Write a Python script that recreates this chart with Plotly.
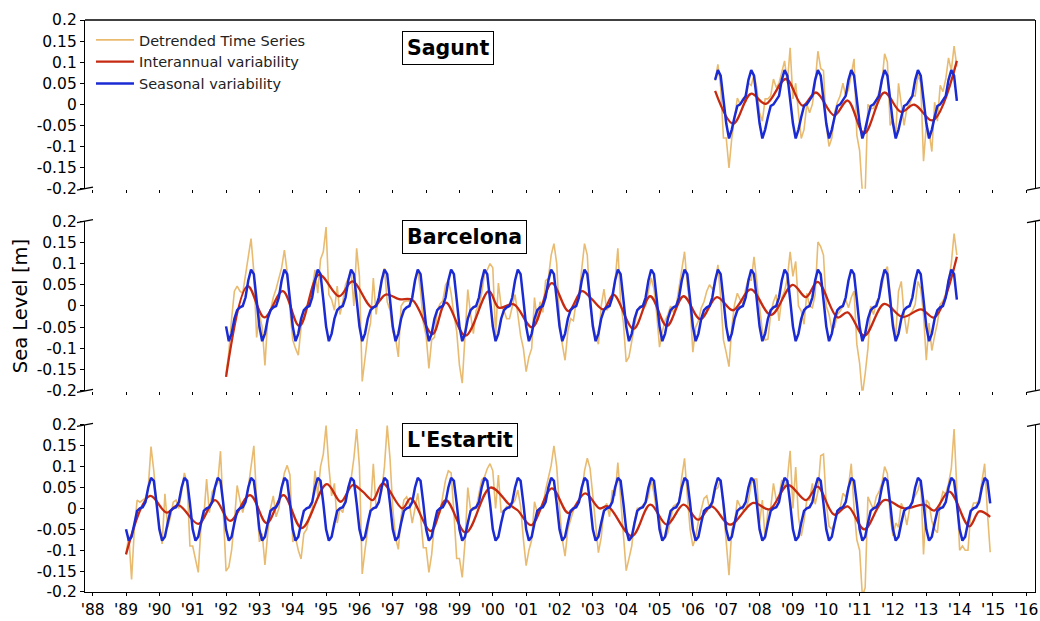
import plotly.graph_objects as go
from plotly.subplots import make_subplots

# ---------------- data ----------------
TICK_YEARS = list(range(1988, 2017))
TICK_LABELS = ["'" + str(y)[2:] for y in TICK_YEARS]
Y_TICKS = [0.2, 0.15, 0.1, 0.05, 0, -0.05, -0.1, -0.15, -0.2]
Y_TICK_LABELS = ["0.2", "0.15", "0.1", "0.05", "0", "-0.05", "-0.1", "-0.15", "-0.2"]

STATIONS = ["Sagunt", "Barcelona", "L'Estartit"]
SERIES_NAMES = ["Detrended Time Series", "Interannual variability", "Seasonal variability"]

# Sagunt: monthly, Sep 2006 - Dec 2013
sagunt_start = (2006, 9)
sagunt_detrended = [
    0.056, 0.095, 0.04, -0.08,
    -0.08, -0.151, -0.08, -0.03, 0.015, 0.0, 0.015, 0.005, 0.05, 0.045, 0.07, 0.04,
    -0.02, -0.04, 0.013, 0.013, 0.02, 0.06, 0.04, 0.05, 0.075, 0.103, 0.05, 0.134,
    0.013, 0.05, -0.02, -0.081, -0.06, 0.0, -0.02, 0.0, 0.05, 0.126, 0.085, 0.08,
    -0.05, -0.1, -0.08, -0.02, 0.005, 0.02, 0.05, 0.02, 0.035, 0.07, 0.108, -0.073,
    -0.11, -0.21, -0.21, 0.0, -0.01, -0.01, 0.013, 0.03, 0.05, 0.12, 0.1, -0.05,
    -0.035, -0.07, 0.05, -0.003, -0.05, -0.01, 0.0, 0.02, 0.02, 0.07, 0.05, -0.135,
    -0.05, -0.065, -0.112, 0.005, -0.04, 0.045, 0.03, 0.06, 0.11, 0.08, 0.138, 0.09,
]
sagunt_seasonal_cycle = [-0.045, -0.081, -0.06, -0.03, -0.004, 0.0, 0.01, 0.02, 0.058, 0.081, 0.068, 0.008]
sagunt_inter_t = [2006.667, 2007.21, 2007.74, 2008.19, 2008.79, 2009.29, 2009.69, 2010.24,
                  2010.64, 2011.14, 2011.74, 2012.24, 2012.64, 2013.19, 2013.917]
sagunt_inter_v = [0.032, -0.046, 0.025, 0.001, 0.06, -0.003, 0.028, -0.026,
                  0.009, -0.069, 0.028, -0.018, -0.001, -0.038, 0.103]

# Barcelona: monthly, Jan 1992 - Dec 2013
barcelona_start = (1992, 1)
barcelona_detrended = [
    -0.16, -0.11, -0.03, 0.035, 0.047, 0.035, 0.03, 0.07, 0.11, 0.159, 0.08, -0.074,
    -0.02, -0.05, -0.14, -0.03, -0.01, 0.02, 0.04, 0.065, 0.09, 0.132, 0.08, -0.01,
    -0.08, -0.1, -0.116, -0.05, -0.01, 0.0, 0.005, 0.04, 0.085, 0.03, 0.11, 0.128,
    0.186, 0.027, 0.015, -0.01, 0.047, -0.02, 0.01, 0.05, 0.065, 0.085, 0.0, 0.136,
    0.07, -0.178, -0.13, -0.07, -0.04, 0.066, -0.02, 0.027, 0.06, 0.089, 0.01, -0.01,
    -0.06, -0.075, -0.12, 0.0, 0.01, 0.012, 0.012, 0.012, 0.06, 0.085, 0.035, -0.04,
    -0.07, -0.147, -0.08, -0.074, -0.01, 0.005, 0.012, 0.05, 0.06, 0.03, -0.02, -0.06,
    -0.14, -0.182, -0.07, 0.039, -0.02, -0.065, -0.01, 0.0, 0.03, 0.075, 0.085, 0.1,
    0.09, -0.07, 0.054, 0.0, -0.01, -0.03, -0.03, 0.0, 0.027, -0.02, -0.07, -0.1,
    -0.155, -0.12, -0.1, 0.02, -0.035, 0.01, -0.015, 0.06, 0.065, 0.12, 0.147, 0.1,
    -0.03, -0.09, -0.128, -0.06, -0.03, -0.035, 0.01, 0.027, 0.08, 0.147, 0.12, 0.0,
    -0.04, -0.07, -0.09, 0.0, 0.04, -0.01, 0.0, 0.03, 0.058, 0.136, 0.01, -0.04,
    -0.132, -0.12, -0.08, -0.04, -0.01, 0.0, 0.0, 0.0, 0.035, 0.066, 0.04, -0.02,
    -0.097, -0.06, -0.035, -0.02, 0.0, -0.015, 0.0, 0.04, 0.08, 0.128, 0.05, 0.0,
    -0.109, -0.05, -0.035, -0.005, 0.01, 0.035, 0.05, 0.04, 0.05, 0.097, 0.02, -0.08,
    -0.11, -0.143, -0.05, 0.004, 0.03, 0.015, 0.005, 0.04, 0.065, 0.06, 0.116, 0.06,
    -0.01, -0.06, -0.08, -0.078, -0.02, 0.01, 0.027, -0.035, 0.02, 0.035, 0.066, 0.128,
    0.07, 0.105, 0.0, -0.012, -0.043, 0.03, 0.0, -0.004, 0.027, 0.151, 0.14, 0.12,
    0.0, -0.02, -0.055, -0.05, -0.02, -0.012, 0.0, 0.015, -0.004, 0.02, 0.035, -0.09,
    -0.135, -0.21, -0.16, -0.1, 0.0, -0.02, 0.01, 0.02, 0.045, 0.08, 0.093, 0.03,
    -0.035, -0.07, 0.035, 0.058, -0.02, -0.065, -0.02, -0.012, 0.004, 0.058, 0.04, -0.02,
    -0.128, -0.04, -0.105, -0.07, -0.04, 0.004, 0.012, 0.03, 0.06, 0.1, 0.171, 0.12,
]
barcelona_seasonal_cycle = [-0.048, -0.083, -0.065, -0.03, -0.01, -0.003, 0.0, 0.02, 0.06, 0.086, 0.075, 0.015]
barcelona_inter_t = [1992.0, 1992.65, 1993.15, 1993.7, 1994.2, 1994.79, 1995.39, 1995.79, 1996.39,
                     1996.79, 1997.19, 1997.59, 1998.19, 1998.59, 1999.18, 1999.88, 2000.18, 2000.63,
                     2001.18, 2001.77, 2002.27, 2002.67, 2002.97, 2003.32, 2003.62, 2004.22, 2004.72,
                     2005.22, 2005.72, 2006.22, 2006.72, 2007.2, 2007.74, 2008.34, 2008.99, 2009.39,
                     2009.74, 2010.34, 2010.64, 2011.14, 2011.74, 2012.29, 2012.84, 2013.24, 2013.917]
barcelona_inter_v = [-0.167, 0.047, -0.027, 0.035, -0.047, 0.074, 0.023, 0.058, -0.004,
                     0.027, 0.016, 0.014, -0.066, 0.008, -0.07, 0.035, -0.004, 0.004,
                     -0.05, 0.054, -0.012, 0.035, 0.016, -0.008, 0.027, -0.054, 0.023,
                     -0.047, 0.023, -0.031, 0.021, -0.01, 0.039, -0.021, 0.05, 0.021,
                     0.057, -0.027, -0.015, -0.07, 0.005, -0.026, -0.008, -0.027, 0.116]

# L'Estartit: monthly, Jan 1989 - Dec 2014
lestartit_start = (1989, 1)
lestartit_detrended = [
    -0.11, -0.065, -0.17, -0.05, 0.02, 0.015, 0.02, 0.025, 0.05, 0.148, 0.09, 0.01,
    -0.04, -0.085, 0.035, -0.045, -0.02, 0.015, 0.02, 0.0, 0.04, 0.085, 0.06, -0.09,
    -0.09, -0.12, -0.153, -0.04, -0.02, 0.07, -0.01, 0.04, 0.05, 0.06, 0.137, 0.0,
    -0.15, -0.14, -0.1, -0.03, 0.055, 0.02, -0.01, 0.02, 0.05, 0.1, 0.15, 0.02,
    -0.08, -0.06, -0.135, -0.06, 0.0, 0.03, -0.02, 0.0, 0.05, 0.085, 0.103, 0.08,
    -0.08, -0.07, -0.1, -0.121, -0.06, -0.05, -0.02, 0.0, 0.09, 0.03, 0.1, 0.13,
    0.198, 0.1, 0.03, 0.06, -0.035, 0.0, -0.01, 0.028, 0.05, 0.07, 0.12, 0.19,
    0.1, -0.157, -0.1, -0.05, 0.0, 0.107, 0.0, 0.02, 0.04, 0.1, 0.198, 0.12,
    0.0, -0.07, -0.098, -0.02, 0.02, 0.028, 0.01, -0.035, 0.0, 0.036, -0.02, -0.094,
    -0.094, -0.153, -0.11, -0.035, -0.02, -0.01, 0.03, 0.068, 0.09, 0.085, -0.01, -0.12,
    -0.12, -0.165, -0.08, 0.05, -0.003, -0.003, 0.0, 0.03, 0.068, 0.075, 0.095, 0.107,
    0.09, 0.0, 0.08, -0.01, -0.005, 0.005, 0.0, 0.01, 0.02, 0.044, 0.005, -0.074,
    -0.137, -0.1, -0.075, 0.016, -0.01, 0.0, 0.005, 0.044, 0.07, 0.103, 0.15, 0.1,
    0.0, -0.075, -0.114, -0.05, -0.027, -0.005, 0.01, 0.016, 0.036, 0.09, 0.12, 0.096,
    0.03, -0.035, -0.106, -0.07, 0.0, 0.012, -0.02, 0.044, 0.03, 0.11, 0.03, -0.06,
    -0.149, -0.12, -0.09, -0.03, 0.0, 0.0, 0.008, 0.012, 0.028, 0.068, 0.036, -0.01,
    -0.02, -0.074, -0.07, -0.058, -0.03, 0.005, 0.01, 0.013, 0.075, 0.12, 0.03, -0.05,
    -0.09, -0.07, -0.03, 0.0, 0.024, 0.03, 0.0, 0.01, 0.044, 0.05, 0.07, 0.0,
    -0.09, -0.16, -0.05, -0.035, 0.02, 0.005, -0.003, -0.003, 0.02, 0.06, 0.07, 0.07,
    -0.035, 0.02, -0.074, -0.005, 0.0, 0.06, 0.02, 0.03, 0.068, 0.052, 0.07, 0.138,
    0.0, 0.099, -0.02, -0.066, -0.03, 0.02, 0.02, 0.06, 0.01, 0.04, 0.126, 0.13,
    0.013, -0.043, -0.05, -0.035, -0.005, 0.0, 0.036, 0.028, 0.052, 0.107, 0.0, -0.075,
    -0.1, -0.21, -0.19, 0.028, 0.012, -0.003, 0.028, 0.04, 0.06, 0.1, 0.083, -0.02,
    -0.066, -0.035, -0.045, 0.012, -0.003, -0.04, 0.0, 0.02, 0.03, 0.044, 0.068, -0.11,
    0.02, 0.012, -0.03, -0.05, -0.058, 0.012, 0.04, 0.035, 0.06, 0.095, 0.19, 0.03,
    -0.1, -0.09, -0.1, -0.1, -0.01, 0.013, 0.013, 0.02, 0.06, 0.107, -0.01, -0.105,
]
lestartit_seasonal_cycle = [-0.05, -0.077, -0.068, -0.035, -0.006, 0.0, 0.003, 0.015, 0.05, 0.073, 0.066, 0.012]
lestartit_inter_t = [1989.0, 1989.72, 1990.22, 1990.57, 1991.17, 1991.67, 1992.12, 1992.72, 1993.22,
                     1993.72, 1994.27, 1995.02, 1995.44, 1995.8, 1996.1, 1996.4, 1996.7, 1997.29,
                     1997.54, 1998.14, 1998.59, 1999.19, 1999.93, 2000.5, 2000.75, 2001.15, 2001.77,
                     2002.27, 2002.77, 2003.2, 2003.45, 2004.17, 2004.72, 2005.22, 2005.72, 2006.16,
                     2006.56, 2007.11, 2007.81, 2008.3, 2008.85, 2009.39, 2009.74, 2010.24, 2010.64,
                     2011.14, 2011.74, 2012.34, 2012.94, 2013.24, 2013.69, 2014.29, 2014.59, 2014.917]
lestartit_inter_v = [-0.11, 0.03, -0.01, 0.008, -0.037, 0.02, -0.03, 0.032, -0.035,
                     0.032, -0.047, 0.058, 0.016, 0.056, 0.04, 0.02, 0.06, 0.0,
                     0.024, -0.054, 0.02, -0.058, 0.05, 0.009, -0.005, -0.04, 0.048,
                     -0.011, 0.036, 0.0, 0.005, -0.066, 0.009, -0.039, 0.009, -0.027,
                     0.005, -0.039, 0.013, -0.002, 0.056, 0.02, 0.052, -0.015, 0.005,
                     -0.05, 0.02, 0.0, 0.009, -0.005, 0.04, -0.043, -0.007, -0.02]

# ---------------- helpers ----------------
def month_times(start, n):
    y0, m0 = start
    return [y0 + (m0 - 1 + i) / 12.0 for i in range(n)]


def seasonal_from_cycle(cycle, start, n):
    # the seasonal component is the station's 12-month climatology, repeated in calendar order
    m0 = start[1] - 1
    return [cycle[(m0 + i) % 12] for i in range(n)]


panels = [
    (sagunt_start, sagunt_detrended, sagunt_seasonal_cycle, sagunt_inter_t, sagunt_inter_v),
    (barcelona_start, barcelona_detrended, barcelona_seasonal_cycle, barcelona_inter_t, barcelona_inter_v),
    (lestartit_start, lestartit_detrended, lestartit_seasonal_cycle, lestartit_inter_t, lestartit_inter_v),
]

TAN = "#E8BB70"
RED = "#C62A10"
BLUE = "#1B2BD4"
FONT = "DejaVu Sans"

fig = make_subplots(rows=3, cols=1)

for i, (start, det, cyc, it, iv) in enumerate(panels):
    row = i + 1
    t = month_times(start, len(det))
    seas = seasonal_from_cycle(cyc, start, len(det))
    fig.add_trace(go.Scatter(x=t, y=det, mode="lines", name=SERIES_NAMES[0],
                             line=dict(color=TAN, width=1.6), showlegend=(i == 0),
                             legendrank=1), row=row, col=1)
    fig.add_trace(go.Scatter(x=it, y=iv, mode="lines", name=SERIES_NAMES[1],
                             line=dict(color=RED, width=2.3, shape="spline", smoothing=1.0),
                             showlegend=(i == 0), legendrank=2), row=row, col=1)
    fig.add_trace(go.Scatter(x=t, y=seas, mode="lines", name=SERIES_NAMES[2],
                             line=dict(color=BLUE, width=2.5), showlegend=(i == 0),
                             legendrank=3), row=row, col=1)

# ---------------- layout ----------------
W, H = 1040, 621
ML, MR, MT, MB = 85, 2, 20, 21
PH = H - MT - MB  # 580
PW = W - ML - MR


def ydom(top_px, bot_px):
    return [(H - MB - bot_px) / PH, (H - MB - top_px) / PH]


domains = [ydom(20, 191), ydom(224, 396), ydom(430.5, 600)]
x_range = [1987.77, 2016.26]

for i in range(3):
    n = "" if i == 0 else str(i + 1)
    fig.layout["yaxis" + n].update(
        domain=domains[i], range=[-0.2, 0.2], tickvals=Y_TICKS, ticktext=Y_TICK_LABELS,
        ticks="outside", ticklen=4, tickwidth=1.2, tickcolor="black",
        showline=True, mirror=True, linecolor="black", linewidth=1.3,
        showgrid=False, zeroline=False,
        tickfont=dict(family=FONT, size=15.5, color="black"),
    )
    fig.layout["xaxis" + n].update(
        range=x_range, tickvals=TICK_YEARS, ticktext=TICK_LABELS,
        ticks="outside", ticklen=3, tickwidth=1.2, tickcolor="black",
        showticklabels=(i == 2), showline=(i == 2), linecolor="black", linewidth=1.3,
        showgrid=False, zeroline=False, ticklabeloverflow="allow",
        tickfont=dict(family=FONT, size=15.5, color="black"),
    )

shapes = []
# top spine of the top panel
shapes.append(dict(type="line", xref="x domain", yref="y domain", x0=0, x1=1, y0=1, y1=1,
                   line=dict(color="black", width=1.3)))
# broken-axis marks
break_spots = [("y", 0), ("y2", 1), ("y2", 0), ("y3", 1)]
for ax, yd in break_spots:
    xr = "x" if ax == "y" else "x" + ax[1:]
    for xd in (0, 1):
        shapes.append(dict(type="line", xref=xr + " domain", yref=ax + " domain",
                           xsizemode="pixel", xanchor=xd, ysizemode="pixel", yanchor=yd,
                           x0=-8, x1=8, y0=-1.5, y1=1.5,
                           line=dict(color="black", width=1.3)))

annotations = []
label_pos = [(403, 48.5), (403, 240.5), (403, 445.5)]
for name, (px, py) in zip(STATIONS, label_pos):
    annotations.append(dict(
        text="<b>" + name + "</b>", xref="paper", yref="paper",
        x=(px - ML) / PW, y=(H - MB - py) / PH,
        xanchor="left", yanchor="middle", showarrow=False,
        font=dict(family=FONT, size=20.5, color="black"),
        bordercolor="black", borderwidth=1, borderpad=4, bgcolor="white"))
annotations.append(dict(
    text="Sea Level [m]", xref="paper", yref="paper",
    x=(20 - ML) / PW, y=(H - MB - 310) / PH,
    xanchor="center", yanchor="middle", textangle=-90, showarrow=False,
    font=dict(family=FONT, size=19.5, color="black")))

fig.update_layout(
    width=W, height=H,
    margin=dict(l=ML, r=MR, t=MT, b=MB),
    paper_bgcolor="white", plot_bgcolor="white",
    font=dict(family=FONT, color="black"),
    showlegend=True,
    legend=dict(x=(91 - ML) / PW, y=(H - MB - 24) / PH,
                xanchor="left", yanchor="top", bgcolor="rgba(0,0,0,0)",
                font=dict(family=FONT, size=14.5, color="#222"),
                itemwidth=38, tracegroupgap=0),
    shapes=shapes, annotations=annotations,
)

fig.write_html("out.html")
